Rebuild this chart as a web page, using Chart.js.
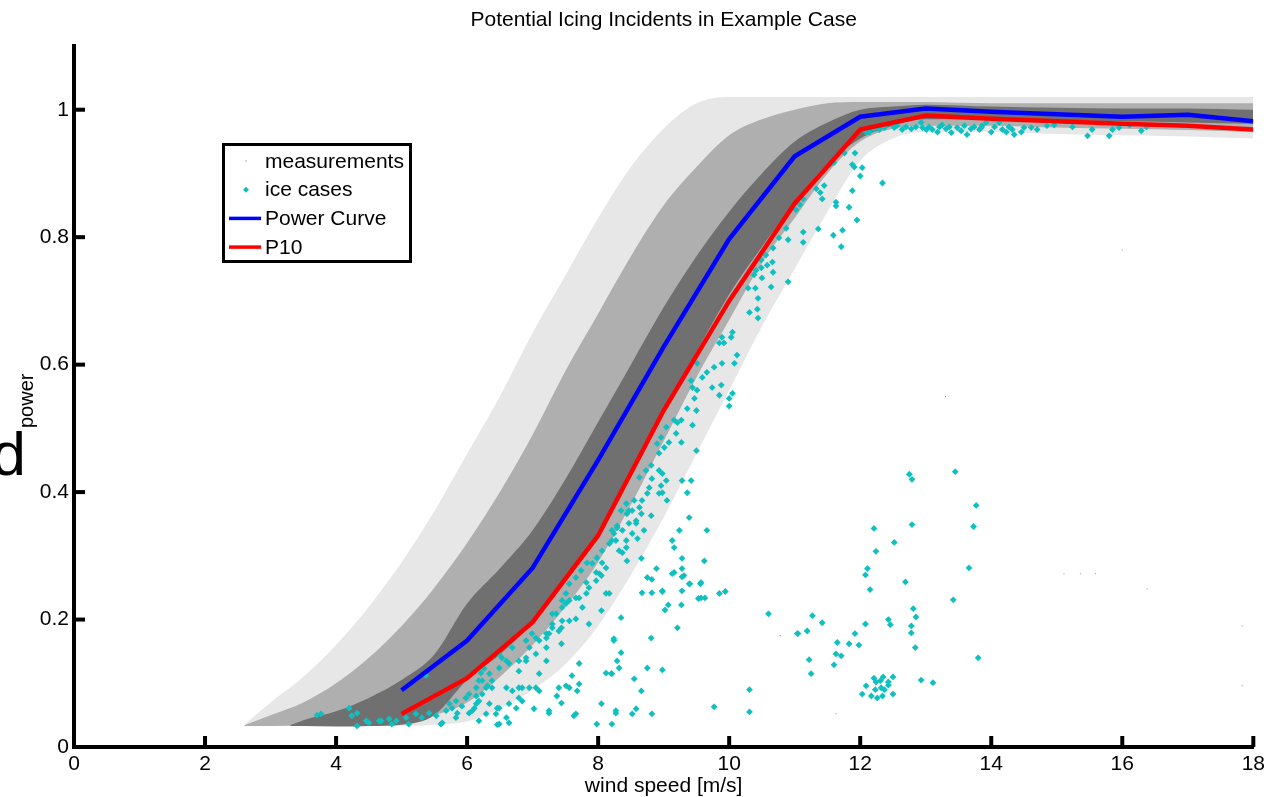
<!DOCTYPE html>
<html>
<head>
<meta charset="utf-8">
<title>Potential Icing Incidents in Example Case</title>
<script src="https://cdn.jsdelivr.net/npm/chart.js@4.4.0/dist/chart.umd.min.js"></script>
<style>
  html, body { margin: 0; padding: 0; background: #fff; }
  #wrap { width: 1270px; height: 797px; position: relative; }
</style>
</head>
<body>
<div id="wrap"><canvas id="grafico" width="1270" height="797"></canvas></div>
<script>
// --- data ---
const windBins = [5, 6, 7, 8, 9, 10, 11, 12, 13, 14, 15, 16, 17, 18];
const powerCurve = [0.089, 0.167, 0.281, 0.45, 0.628, 0.797, 0.927, 0.989, 1.002, 0.997, 0.993, 0.989, 0.992, 0.982];
const p10 = [0.052, 0.108, 0.196, 0.332, 0.528, 0.70, 0.853, 0.969, 0.991, 0.986, 0.982, 0.978, 0.975, 0.969];

const xTicks = [0, 2, 4, 6, 8, 10, 12, 14, 16, 18];
const yTicks = [0, 0.2, 0.4, 0.6, 0.8, 1];

// measurement cloud, described by envelopes (sparse outer, medium, dense core)
const cloudX = [2.6, 3, 3.5, 4, 4.5, 5, 5.5, 6, 6.5, 7, 7.5, 8, 8.5, 9, 9.5, 10, 10.5, 11, 11.5, 12, 12.5, 13, 14, 15, 16, 17, 18];
const outerTop = [0.035, 0.07, 0.11, 0.16, 0.22, 0.29, 0.37, 0.46, 0.55, 0.65, 0.74, 0.83, 0.91, 0.97, 1.01, 1.02, 1.02, 1.02, 1.02, 1.02, 1.02, 1.02, 1.02, 1.02, 1.02, 1.02, 1.02];
const outerBottom = [0.033, 0.033, 0.033, 0.033, 0.033, 0.033, 0.035, 0.04, 0.06, 0.09, 0.13, 0.19, 0.27, 0.36, 0.46, 0.56, 0.66, 0.75, 0.84, 0.92, 0.955, 0.965, 0.965, 0.962, 0.96, 0.958, 0.955];
const midTop = [0.034, 0.05, 0.07, 0.1, 0.14, 0.19, 0.25, 0.32, 0.4, 0.49, 0.59, 0.68, 0.77, 0.85, 0.91, 0.96, 0.985, 1.0, 1.01, 1.012, 1.012, 1.012, 1.01, 1.01, 1.01, 1.01, 1.01];
const midBottom = [0.033, 0.033, 0.034, 0.035, 0.036, 0.038, 0.05, 0.07, 0.11, 0.16, 0.22, 0.29, 0.38, 0.48, 0.58, 0.67, 0.76, 0.83, 0.9, 0.95, 0.97, 0.975, 0.975, 0.972, 0.97, 0.968, 0.965];

const coreX = [3.3, 3.5, 4, 4.5, 5, 5.5, 6, 6.5, 7, 7.5, 8, 8.5, 9, 9.5, 10, 10.5, 11, 11.5, 12, 12.5, 13, 14, 15, 16, 17, 18];
const coreTop = [0.034, 0.042, 0.056, 0.077, 0.105, 0.145, 0.225, 0.28, 0.34, 0.42, 0.51, 0.6, 0.69, 0.77, 0.84, 0.9, 0.95, 0.98, 1.0, 1.005, 1.008, 1.005, 1.003, 1.002, 1.002, 1.0];
const coreBottom = [0.033, 0.033, 0.032, 0.033, 0.035, 0.05, 0.105, 0.145, 0.195, 0.26, 0.335, 0.43, 0.53, 0.62, 0.71, 0.785, 0.855, 0.915, 0.955, 0.975, 0.985, 0.985, 0.983, 0.982, 0.98, 0.978];

// a few stray measurements far from the cloud
const strayMeasurements = [
  [15.11, 0.272], [15.36, 0.272], [15.59, 0.272], [16.38, 0.248], [17.83, 0.19],
  [17.83, 0.096], [10.78, 0.175], [11.63, 0.052], [13.3, 0.55], [16.0, 0.78]
];

// ice cases [wind speed, d_power]
const iceCases = [
  [3.71,0.050],[3.77,0.052],[4.20,0.061],[4.32,0.053],[4.24,0.049],[4.50,0.038],[4.32,0.033],[4.46,0.041],
  [4.69,0.041],[4.81,0.044],[4.92,0.041],[5.07,0.046],[5.22,0.052],[5.37,0.112],[5.31,0.046],[5.42,0.053],
  [5.53,0.049],[5.62,0.038],[5.68,0.057],[5.77,0.061],[5.85,0.053],[5.92,0.064],[6.03,0.053],[6.11,0.061],
  [6.14,0.080],[6.18,0.104],[6.21,0.116],[6.26,0.123],[6.31,0.096],[5.98,0.077],[5.83,0.072],[5.73,0.068],
  [4.66,0.041],[4.85,0.036],[5.11,0.036],[5.60,0.036],[5.83,0.046],[6.18,0.041],[6.49,0.036],[6.60,0.046],
  [6.46,0.061],[6.34,0.068],[6.18,0.072],[6.03,0.083],[6.29,0.093],[6.38,0.104],[6.69,0.088],[6.79,0.077],
  [6.84,0.093],[7.05,0.093],[7.02,0.060],[7.25,0.057],[7.44,0.069],[7.66,0.052],[7.68,0.088],[7.71,0.131],
  [7.60,0.112],[7.40,0.093],[7.51,0.096],[7.21,0.135],[7.10,0.115],[6.90,0.135],[6.79,0.119],[6.60,0.135],
  [6.49,0.146],[6.69,0.156],[6.90,0.167],[7.05,0.171],[7.21,0.178],[7.30,0.187],[7.44,0.187],[7.45,0.198],
  [7.30,0.209],[7.51,0.225],[7.71,0.234],[7.82,0.241],[7.86,0.250],[7.97,0.261],[8.02,0.272],[8.12,0.281],
  [8.17,0.241],[7.86,0.193],[7.44,0.162],[7.98,0.036],[8.21,0.036],[8.27,0.057],[8.05,0.068],[8.58,0.060],
  [8.82,0.052],[8.52,0.052],[8.66,0.088],[8.55,0.107],[8.75,0.124],[8.98,0.121],[8.35,0.148],[8.29,0.135],
  [8.24,0.170],[8.32,0.124],[8.20,0.115],[8.12,0.116],[8.35,0.203],[8.81,0.171],[9.21,0.187],[9.02,0.215],
  [9.07,0.223],[9.27,0.223],[9.28,0.245],[9.40,0.256],[9.56,0.256],[9.53,0.233],[9.63,0.234],[9.85,0.241],
  [9.94,0.244],[10.60,0.209],[11.04,0.178],[8.67,0.242],[8.82,0.242],[8.98,0.244],[8.75,0.266],[8.82,0.263],
  [9.13,0.272],[9.28,0.280],[9.28,0.267],[9.77,0.063],[10.31,0.090],[10.31,0.055],
  [8.35,0.371],[8.44,0.366],[8.52,0.371],[8.58,0.351],[8.47,0.351],[8.29,0.347],[8.21,0.340],[8.27,0.324],
  [8.43,0.324],[8.37,0.305],[8.44,0.292],[8.17,0.319],[8.06,0.308],[7.98,0.297],[8.06,0.289],[7.91,0.288],
  [7.83,0.289],[7.97,0.274],[8.05,0.269],[8.12,0.241],[8.05,0.214],[7.82,0.258],[7.74,0.277],[7.66,0.266],
  [7.56,0.256],[7.51,0.241],[7.45,0.230],[7.56,0.230],[7.66,0.234],[7.76,0.219],[7.66,0.201],[7.56,0.198],
  [7.45,0.219],[7.36,0.209],[7.30,0.193],[7.40,0.182],[7.25,0.178],[7.21,0.171],[7.10,0.167],[6.99,0.178],
  [6.95,0.156],[7.21,0.156],[7.05,0.146],[6.90,0.140],[6.79,0.135],[6.64,0.131],[6.53,0.140],[6.49,0.124],
  [6.34,0.115],[6.23,0.104],[6.14,0.093],[6.23,0.083],[6.38,0.093],[6.60,0.093],[6.79,0.093],[6.95,0.093],
  [7.10,0.088],[6.84,0.072],[6.64,0.068],[6.49,0.061],[6.14,0.068],[6.08,0.057],[6.29,0.052],[6.44,0.052],
  [6.64,0.038],[6.46,0.035],[6.75,0.061],[7.56,0.093],[7.71,0.099],[8.21,0.115],[8.24,0.167],[8.27,0.053],
  [7.63,0.049],[7.25,0.053],[7.37,0.080],
  [10.31,0.682],[10.43,0.687],[10.44,0.673],[10.05,0.651],[10.03,0.643],[9.89,0.643],[9.85,0.634],[9.92,0.634],
  [10.12,0.615],[10.08,0.602],[9.89,0.602],[9.77,0.596],[9.66,0.588],[9.59,0.580],[9.51,0.602],[9.42,0.575],
  [9.44,0.564],[9.51,0.560],[9.74,0.564],[9.88,0.568],[9.85,0.552],[10.00,0.547],[10.05,0.555],[10.00,0.535],
  [9.47,0.547],[9.36,0.531],[9.50,0.528],[9.44,0.505],[9.27,0.513],[9.21,0.509],[9.16,0.513],[9.04,0.502],
  [8.96,0.486],[8.90,0.476],[8.93,0.461],[9.01,0.470],[9.08,0.478],[9.19,0.492],[9.27,0.478],[9.50,0.465],
  [8.73,0.434],[8.81,0.442],[8.63,0.423],[8.93,0.434],[8.98,0.429],[9.04,0.418],[8.96,0.410],[8.82,0.421],
  [8.78,0.407],[8.93,0.398],[8.98,0.399],[9.05,0.387],[8.75,0.398],[8.67,0.387],[8.55,0.387],[8.63,0.376],
  [8.47,0.371],[8.43,0.382],[8.66,0.366],[8.81,0.363],[8.58,0.355],[8.70,0.340],[8.52,0.335],[8.37,0.340],
  [8.29,0.344],[8.24,0.335],[8.21,0.324],[8.43,0.313],[8.32,0.308],[8.60,0.327],[9.28,0.418],[9.42,0.418],
  [9.36,0.399],[9.39,0.360],[9.24,0.340],[9.66,0.340],[9.13,0.324],[9.16,0.313],[8.66,0.296],[8.89,0.280],
  [9.16,0.274],[9.28,0.296],[9.31,0.269],[9.39,0.256],[9.57,0.258],[9.62,0.292],[9.57,0.234],[8.98,0.245],
  [12.75,0.428],[12.79,0.420],[13.45,0.432],[13.77,0.379],[13.73,0.346],[12.79,0.349],[12.21,0.343],[12.52,0.321],
  [12.24,0.307],[12.11,0.280],[12.08,0.270],[12.15,0.247],[12.69,0.259],[13.66,0.281],[13.42,0.231],[12.81,0.217],
  [12.85,0.204],[12.43,0.200],[12.46,0.192],[12.78,0.190],[12.78,0.179],[12.84,0.156],[13.80,0.140],[11.42,0.195],
  [12.08,0.193],[11.92,0.178],[11.65,0.164],[11.83,0.162],[11.98,0.160],[11.63,0.146],[11.71,0.143],[11.60,0.129],
  [12.93,0.105],[13.11,0.101],[12.21,0.108],[12.35,0.110],[12.50,0.110],[12.24,0.102],[12.31,0.104],[12.43,0.102],
  [12.43,0.097],[12.09,0.096],[12.32,0.093],[12.37,0.090],[12.23,0.090],[12.03,0.083],[12.17,0.080],[12.26,0.077],
  [12.34,0.080],[12.50,0.083],[11.05,0.178],[11.19,0.182],[11.27,0.206],[11.22,0.137],[11.25,0.115],
  [11.76,0.932],[11.92,0.932],[11.60,0.917],[11.54,0.914],[11.88,0.914],[11.91,0.910],[12.03,0.909],[12.00,0.896],
  [12.34,0.885],[11.45,0.881],[11.33,0.876],[11.39,0.870],[11.42,0.860],[11.63,0.855],[11.63,0.849],[11.88,0.873],
  [11.83,0.847],[11.95,0.827],[11.08,0.851],[11.02,0.843],[11.13,0.860],[11.36,0.813],[11.59,0.803],[11.73,0.811],
  [11.71,0.785],[11.13,0.808],[11.13,0.792],[10.87,0.814],[10.90,0.796],[10.76,0.799],[10.67,0.783],[10.56,0.772],
  [10.49,0.764],[10.58,0.756],[10.66,0.761],[10.67,0.745],[10.49,0.752],[10.41,0.748],[10.38,0.741],[10.50,0.736],
  [10.90,0.730],[10.64,0.722],[10.29,0.720],[10.40,0.720],[10.44,0.704],
  [12.14,0.965],[12.29,0.969],[12.37,0.972],[12.52,0.972],[12.56,0.975],[12.64,0.969],[12.70,0.973],[12.78,0.970],
  [12.85,0.973],[12.93,0.980],[12.95,0.972],[13.01,0.969],[13.05,0.973],[13.10,0.969],[13.18,0.965],[13.21,0.973],
  [13.25,0.976],[13.31,0.970],[13.36,0.973],[13.39,0.964],[13.48,0.972],[13.54,0.967],[13.59,0.975],[13.63,0.961],
  [13.69,0.970],[13.74,0.973],[13.82,0.969],[13.85,0.972],[13.86,0.975],[13.92,0.980],[14.00,0.965],[14.05,0.973],
  [14.12,0.980],[14.17,0.969],[14.23,0.965],[14.27,0.973],[14.32,0.969],[14.35,0.961],[14.46,0.965],[14.50,0.972],
  [14.61,0.972],[14.70,0.969],[14.85,0.975],[14.96,0.976],[15.24,0.973],[15.47,0.959],[15.54,0.969],[15.80,0.959],
  [15.85,0.969],[15.95,0.972],[16.11,0.976],[16.29,0.967],[16.37,0.973],[12.09,0.965],[12.21,0.970]
];

// --- helpers ---
const pares = (xs, ys) => xs.map((x, i) => ({ x: x, y: ys[i] }));
const pontos = lista => lista.map(p => ({ x: p[0], y: p[1] }));

const FONTE = '"Liberation Sans", Arial, Helvetica, sans-serif';
const CIANO = '#0fc0c0';

function banda(xs, ys, cor, alvo, ordem) {
  return {
    data: pares(xs, ys),
    borderWidth: 0,
    pointRadius: 0,
    backgroundColor: cor,
    fill: alvo === null ? false : { target: alvo },
    cubicInterpolationMode: 'monotone',
    order: ordem
  };
}

// draws inward ticks, texts and the boxed legend
const molduraPlugin = {
  id: 'moldura',
  afterDraw(chart) {
    const c = chart.ctx;
    const a = chart.chartArea;
    const sx = chart.scales.x;
    const sy = chart.scales.y;
    c.save();

    // inward ticks
    c.strokeStyle = '#000';
    c.lineWidth = 4;
    xTicks.forEach(v => {
      const px = sx.getPixelForValue(v);
      c.beginPath(); c.moveTo(px, a.bottom); c.lineTo(px, a.bottom - 11); c.stroke();
    });
    yTicks.forEach(v => {
      const py = sy.getPixelForValue(v);
      c.beginPath(); c.moveTo(a.left, py); c.lineTo(a.left + 11, py); c.stroke();
    });

    // title and axis labels
    c.fillStyle = '#000';
    c.font = '21px ' + FONTE;
    c.textAlign = 'center';
    c.textBaseline = 'middle';
    c.fillText('Potential Icing Incidents in Example Case', (a.left + a.right) / 2, 20);
    c.fillText('wind speed [m/s]', (a.left + a.right) / 2, 786);

    c.font = '62px ' + FONTE;
    c.textAlign = 'right';
    c.textBaseline = 'alphabetic';
    c.fillText('d', 26, 475);
    c.save();
    c.translate(33, 428);
    c.rotate(-Math.PI / 2);
    c.font = '20px ' + FONTE;
    c.textAlign = 'left';
    c.fillText('power', 0, 0);
    c.restore();

    // legend
    const L = 222, T = 143, W = 190, H = 120;
    c.fillStyle = '#fff';
    c.fillRect(L, T, W, H);
    c.lineWidth = 3;
    c.strokeStyle = '#000';
    c.strokeRect(L + 1.5, T + 1.5, W - 3, H - 3);
    const itens = [
      { t: 'measurements', tipo: 'dot', cor: '#555' },
      { t: 'ice cases', tipo: 'ice', cor: CIANO },
      { t: 'Power Curve', tipo: 'line', cor: '#0000ff' },
      { t: 'P10', tipo: 'line', cor: '#ff0000' }
    ];
    c.font = '21px ' + FONTE;
    c.textAlign = 'left';
    c.textBaseline = 'middle';
    itens.forEach((it, i) => {
      const yy = 161 + i * 28.7;
      if (it.tipo === 'line') {
        c.strokeStyle = it.cor; c.lineWidth = 3.5;
        c.beginPath(); c.moveTo(229, yy); c.lineTo(261, yy); c.stroke();
      } else if (it.tipo === 'ice') {
        c.fillStyle = it.cor;
        c.beginPath(); c.moveTo(246, yy - 3); c.lineTo(249, yy); c.lineTo(246, yy + 3); c.lineTo(243, yy); c.closePath(); c.fill();
      } else {
        c.fillStyle = it.cor; c.fillRect(245.5, yy - 0.5, 1, 1);
      }
      c.fillStyle = '#000';
      c.fillText(it.t, 265, yy + 1);
    });
    c.restore();
  }
};

const ctx = document.getElementById('grafico').getContext('2d');

const grafico = new Chart(ctx, {
  type: 'line',
  data: {
    datasets: [
      { label: 'Power Curve', data: pares(windBins, powerCurve), borderColor: '#0000ff', borderWidth: 4.5,
        pointRadius: 0, fill: false, tension: 0, order: 0 },
      { label: 'P10', data: pares(windBins, p10), borderColor: '#ff0000', borderWidth: 4.5,
        pointRadius: 0, fill: false, tension: 0, order: 1 },
      { label: 'ice cases', data: pontos(iceCases), showLine: false, pointStyle: 'rectRot', pointRadius: 3.4,
        pointBorderWidth: 0, backgroundColor: CIANO, pointBackgroundColor: CIANO, fill: false, order: 2 },
      { label: 'measurements', data: pontos(strayMeasurements), showLine: false, pointStyle: 'rect', pointRadius: 0.7,
        pointBorderWidth: 0, pointBackgroundColor: '#8a8a8a', fill: false, order: 3 },
      // dense core (index 4,5)
      banda(coreX, coreBottom, 'rgba(0,0,0,0)', null, 4),
      banda(coreX, coreTop, '#707070', 4, 4),
      // medium cloud (index 6,7)
      banda(cloudX, midBottom, 'rgba(0,0,0,0)', null, 6),
      banda(cloudX, midTop, '#afafaf', 6, 6),
      // sparse outer cloud (index 8,9)
      banda(cloudX, outerBottom, 'rgba(0,0,0,0)', null, 8),
      banda(cloudX, outerTop, '#e7e7e7', 8, 8)
    ]
  },
  options: {
    responsive: false,
    devicePixelRatio: 1,
    animation: false,
    events: [],
    layout: { padding: { top: 46, right: 15, left: 0, bottom: 0 } },
    plugins: {
      legend: { display: false },
      title: { display: false },
      tooltip: { enabled: false }
    },
    scales: {
      x: {
        type: 'linear',
        min: 0,
        max: 18,
        afterFit: s => { s.height = 50; },
        ticks: { stepSize: 2, color: '#000', padding: 5, maxRotation: 0, font: { size: 21, family: FONTE } },
        grid: { display: false, drawTicks: false },
        border: { display: true, color: '#000', width: 4 }
      },
      y: {
        type: 'linear',
        min: 0,
        max: 1.1,
        afterFit: s => { s.width = 74; },
        ticks: {
          stepSize: 0.2,
          includeBounds: false,
          color: '#000',
          padding: 5,
          font: { size: 21, family: FONTE },
          callback: v => String(Number(v.toFixed(1)))
        },
        grid: { display: false, drawTicks: false },
        border: { display: true, color: '#000', width: 4 }
      }
    }
  },
  plugins: [molduraPlugin]
});
</script>
</body>
</html>
